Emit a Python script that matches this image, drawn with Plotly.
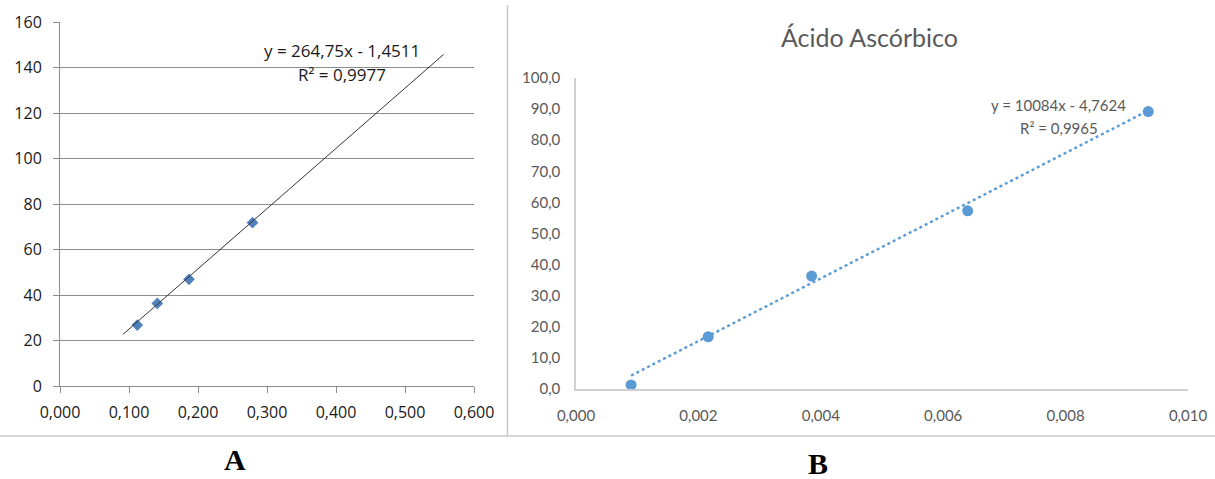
import numpy as np
import plotly.graph_objects as go

W, H = 1215, 479

# ---- Data panel A ----
a_x = [0.112, 0.141, 0.187, 0.279]
a_y = [26.8, 36.3, 46.9, 71.8]
a_slope, a_intercept = 264.75, -1.4511
a_trend_x = [0.091, 0.556]
a_eq = "y = 264,75x - 1,4511"
a_r2 = "R² = 0,9977"
a_xticks = [0.0, 0.1, 0.2, 0.3, 0.4, 0.5, 0.6]
a_yticks = [0, 20, 40, 60, 80, 100, 120, 140, 160]

# ---- Data panel B ----
b_x = [0.00090, 0.00216, 0.00385, 0.00640, 0.00935]
b_y = [1.3, 16.8, 36.3, 57.3, 89.2]
b_slope, b_intercept = 10084, -4.7624
b_eq = "y = 10084x - 4,7624"
b_r2 = "R² = 0,9965"
b_title = "Ácido Ascórbico"
b_xticks = [0.0, 0.002, 0.004, 0.006, 0.008, 0.010]
b_yticks = [0, 10, 20, 30, 40, 50, 60, 70, 80, 90, 100]


def px(x):
    return x / W


def py(y):
    return 1 - y / H


fig = go.Figure()

# Panel A
fig.add_trace(go.Scatter(
    x=a_x, y=a_y, mode="markers", xaxis="x", yaxis="y",
    marker=dict(symbol="diamond", size=9, color="#4F81BD"), showlegend=False))
ta = np.array(a_trend_x)
fig.add_trace(go.Scatter(
    x=ta, y=a_slope * ta + a_intercept, mode="lines", xaxis="x", yaxis="y",
    line=dict(color="#333333", width=1), showlegend=False))

# Panel B
tb = np.array([min(b_x), max(b_x)])
fig.add_trace(go.Scatter(
    x=tb, y=b_slope * tb + b_intercept, mode="lines", xaxis="x2", yaxis="y2",
    line=dict(color="#5B9BD5", width=2.4, dash="dot"), showlegend=False))
fig.add_trace(go.Scatter(
    x=b_x, y=b_y, mode="markers", xaxis="x2", yaxis="y2",
    marker=dict(symbol="circle", size=11, color="#5B9BD5"), showlegend=False))

fontA = dict(family="Open Sans, Lato, sans-serif", size=16, color="#1a1a1a")
fontAeq = dict(family="Open Sans, Lato, sans-serif", size=17, color="#1a1a1a")
fontB = dict(family="Lato, Open Sans, sans-serif", size=15, color="#595959")
fontBeq = dict(family="Lato, Open Sans, sans-serif", size=15, color="#595959")

fig.update_layout(
    width=W, height=H,
    margin=dict(l=0, r=0, t=0, b=0),
    paper_bgcolor="white", plot_bgcolor="white",
    separators=", ",
    xaxis=dict(domain=[px(60), px(474)], range=[0, 0.6], tickvals=a_xticks,
               tickformat=".3f", showgrid=False, zeroline=False,
               showline=True, linecolor="#8c8c8c", linewidth=1,
               ticks="outside", ticklen=6, tickcolor="#8c8c8c",
               ticklabelstandoff=6,
               tickfont=fontA, anchor="y", fixedrange=True, automargin=False),
    yaxis=dict(domain=[py(386), py(22)], range=[0, 160], tickvals=a_yticks,
               tickformat="d", showgrid=True, gridcolor="#8c8c8c", gridwidth=1,
               zeroline=False, showline=True, linecolor="#8c8c8c", linewidth=1,
               ticks="outside", ticklen=6, tickcolor="#8c8c8c",
               ticklabelstandoff=8,
               tickfont=fontA, anchor="x", fixedrange=True, automargin=False),
    xaxis2=dict(domain=[px(576), px(1188)], range=[0, 0.010], tickvals=b_xticks,
                tickformat=".3f", showgrid=False, zeroline=False,
                showline=True, linecolor="#d0d0d0", linewidth=1.5,
                ticks="outside", ticklen=12, tickcolor="rgba(0,0,0,0)",
                tickfont=fontB, anchor="y2", fixedrange=True, automargin=False),
    yaxis2=dict(domain=[py(389), py(78)], range=[0, 100], tickvals=b_yticks,
                tickformat=".1f", showgrid=False, zeroline=False,
                showline=True, linecolor="#d0d0d0", linewidth=1.5,
                ticks="outside", ticklen=11, tickcolor="rgba(0,0,0,0)",
                tickfont=fontB, anchor="x2", fixedrange=True, automargin=False),
    shapes=[
        dict(type="line", xref="paper", yref="paper", x0=px(507.5), x1=px(507.5),
             y0=py(5), y1=py(436), line=dict(color="#c8c8c8", width=1.5)),
        dict(type="line", xref="paper", yref="paper", x0=0, x1=1,
             y0=py(436), y1=py(436), line=dict(color="#c8c8c8", width=1.5)),
    ],
    annotations=[
        dict(text=a_eq, xref="paper", yref="paper", x=px(342), y=py(50),
             showarrow=False, font=fontAeq, xanchor="center", yanchor="middle"),
        dict(text=a_r2, xref="paper", yref="paper", x=px(342), y=py(74),
             showarrow=False, font=fontAeq, xanchor="center", yanchor="middle"),
        dict(text=b_eq, xref="paper", yref="paper", x=px(1058), y=py(105),
             showarrow=False, font=fontBeq, xanchor="center", yanchor="middle"),
        dict(text=b_r2, xref="paper", yref="paper", x=px(1059), y=py(128),
             showarrow=False, font=fontBeq, xanchor="center", yanchor="middle"),
        dict(text=b_title, xref="paper", yref="paper", x=px(869), y=py(37),
             showarrow=False, font=dict(family="Lato, Open Sans, sans-serif", size=25, color="#595959"),
             xanchor="center", yanchor="middle"),
        dict(text="<b>A</b>", xref="paper", yref="paper", x=px(235), y=py(459),
             showarrow=False, font=dict(family="Liberation Serif, serif", size=30, color="black"),
             xanchor="center", yanchor="middle"),
        dict(text="<b>B</b>", xref="paper", yref="paper", x=px(818), y=py(463),
             showarrow=False, font=dict(family="Liberation Serif, serif", size=30, color="black"),
             xanchor="center", yanchor="middle"),
    ],
)

fig.write_html("out.html")
